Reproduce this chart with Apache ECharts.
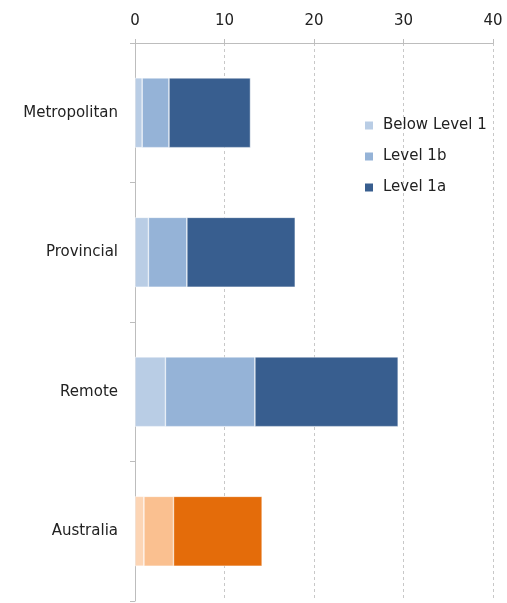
<!DOCTYPE html>
<html lang="en">
<head>
    <meta charset="UTF-8">
    <title>Stacked bars</title>
    <script src="https://cdn.jsdelivr.net/npm/echarts@6/dist/echarts.min.js"></script>
    <style>
        html, body { margin: 0; padding: 0; background: #fff; }
        #main { width: 507px; height: 603px; }
    </style>
</head>
<body>
    <div id="main"></div>
    <script>
        var categories = ['Metropolitan', 'Provincial', 'Remote', 'Australia'];
        var seriesNames = ['Below Level 1', 'Level 1b', 'Level 1a'];
        var belowLevel1 = [0.8, 1.5, 3.4, 1.0];
        var level1b = [3.0, 4.3, 10.0, 3.3];
        var level1a = [9.1, 12.1, 16.0, 9.9];
        var xTicks = [0, 10, 20, 30, 40];

        // blue for the regions, orange for the Australia total
        var blues = ['#B9CDE5', '#95B3D7', '#385E8F'];
        var oranges = ['#FCD5B5', '#FAC090', '#E46C0A'];

        function makeData(values, k) {
            return values.map(function (v, i) {
                if (categories[i] === 'Australia') {
                    return { value: v, itemStyle: { color: oranges[k] } };
                }
                return v;
            });
        }

        var myChart = echarts.init(document.getElementById('main'));
        var allValues = [belowLevel1, level1b, level1a];

        var option = {
            animation: false,
            textStyle: { fontFamily: 'DejaVu Sans' },
            legend: {
                orient: 'vertical',
                left: 358,
                top: 113,
                itemWidth: 10,
                itemHeight: 10,
                itemGap: 16,
                icon: 'rect',
                textStyle: { fontSize: 15, color: '#222', padding: [0, 0, 0, 4] },
                data: seriesNames
            },
            grid: {
                left: 135,
                right: 14,
                top: 43,
                bottom: 2
            },
            xAxis: {
                type: 'value',
                position: 'top',
                min: xTicks[0],
                max: xTicks[xTicks.length - 1],
                interval: 10,
                axisLine: { show: true, lineStyle: { color: '#BDBDBD' } },
                axisTick: { show: true, length: 4, inside: false, lineStyle: { color: '#BDBDBD' } },
                axisLabel: { fontSize: 15, color: '#222', margin: 14 },
                splitLine: { show: true, lineStyle: { color: '#C8C8C8', type: [3, 3] } }
            },
            yAxis: {
                type: 'category',
                inverse: true,
                data: categories,
                axisLine: { show: true, lineStyle: { color: '#BDBDBD' } },
                axisTick: { show: true, length: 5, lineStyle: { color: '#BDBDBD' } },
                axisLabel: { fontSize: 15, color: '#222', margin: 17 }
            },
            series: seriesNames.map(function (name, k) {
                return {
                    name: name,
                    type: 'bar',
                    stack: 'total',
                    barWidth: '50%',
                    itemStyle: { color: blues[k], borderColor: '#fff', borderWidth: 0.5 },
                    data: makeData(allValues[k], k)
                };
            })
        };
        myChart.setOption(option);
    </script>
</body>
</html>
